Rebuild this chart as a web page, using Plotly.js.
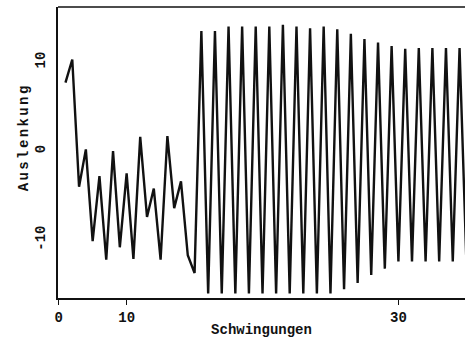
<!DOCTYPE html>
<html>
<head>
<meta charset="utf-8">
<script src="https://cdn.plot.ly/plotly-3.0.1.min.js"></script>
<style>
  html, body { margin: 0; padding: 0; background: #fff; overflow: hidden; }
  #chart { width: 465px; height: 338px; }
  .annotation-text { letter-spacing: 2.4px; }
</style>
</head>
<body>
<div id="chart"></div>
<script>
// Schwingungen (sample index)
const schwingungen = [1,2,3,4,5,6,7,8,9,10,11,12,13,14,15,16,17,18,19,20,
  21,22,23,24,25,26,27,28,29,30,31,32,33,34,35,36,37,38,39,40,
  41,42,43,44,45,46,47,48,49,50,51,52,53,54,55,56,57,58,59,60];
// Auslenkung (amplitude)
const auslenkung = [7.7,10.3,-4.0,0.2,-10.1,-2.8,-12.2,0.0,-10.8,-2.5,
  -12.1,1.6,-7.4,-4.2,-12.2,1.7,-6.4,-3.4,-11.7,-13.7,
  13.5,-16.0,13.5,-16.0,14.0,-16.0,14.0,-16.0,14.0,-16.0,
  14.0,-16.0,14.2,-16.0,14.0,-16.0,13.8,-16.0,14.0,-16.0,
  13.7,-15.5,13.2,-14.8,12.6,-13.9,12.2,-13.2,11.8,-12.4,
  11.5,-12.4,11.6,-12.4,11.6,-12.4,11.6,-12.4,11.6,-12.4];
const xTickVals = [0, 10, 50];
const xTickText = ["0", "10", "30"];
const yTickVals = [-10, 0, 10];
const yTickText = ["-10", "0", "10"];

const font = { family: "Liberation Mono, DejaVu Sans Mono, monospace", size: 14, color: "#111", weight: "bold" };

const trace = {
  x: schwingungen,
  y: auslenkung,
  type: "scatter",
  mode: "lines",
  line: { color: "#111", width: 2.4 },
  hoverinfo: "skip"
};

const layout = {
  width: 465,
  height: 338,
  margin: { l: 58, r: 0, t: 7, b: 40, pad: 0 },
  paper_bgcolor: "#fff",
  plot_bgcolor: "#fff",
  showlegend: false,
  font: font,
  xaxis: {
    range: [-0.1, 59.8],
    showgrid: false,
    zeroline: false,
    showline: true,
    linecolor: "#111",
    linewidth: 2,
    ticks: "outside",
    ticklen: 5,
    tickwidth: 1.5,
    tickcolor: "#111",
    tickmode: "array",
    tickvals: xTickVals,
    ticktext: xTickText,
    tickfont: font,
    title: { text: "Schwingungen", font: font, standoff: 2 }
  },
  yaxis: {
    range: [-16.5, 16.2],
    showgrid: false,
    zeroline: false,
    showline: true,
    linecolor: "#111",
    linewidth: 2,
    ticks: "",
    tickmode: "array",
    tickvals: yTickVals,
    ticktext: yTickText,
    tickangle: -90,
    tickfont: font,
    ticklabelstandoff: 5
  },
  shapes: [
    { type: "line", xref: "paper", yref: "paper", x0: 0, x1: 1, y0: 1, y1: 1,
      line: { color: "#111", width: 1.5 } }
  ],
  annotations: [
    { text: "Auslenkung", xref: "paper", yref: "paper", x: -0.083, y: 0.553,
      xanchor: "center", yanchor: "middle", textangle: -90, showarrow: false,
      font: font }
  ]
};

Plotly.newPlot("chart", [trace], layout, { staticPlot: true, displayModeBar: false });
</script>
</body>
</html>
